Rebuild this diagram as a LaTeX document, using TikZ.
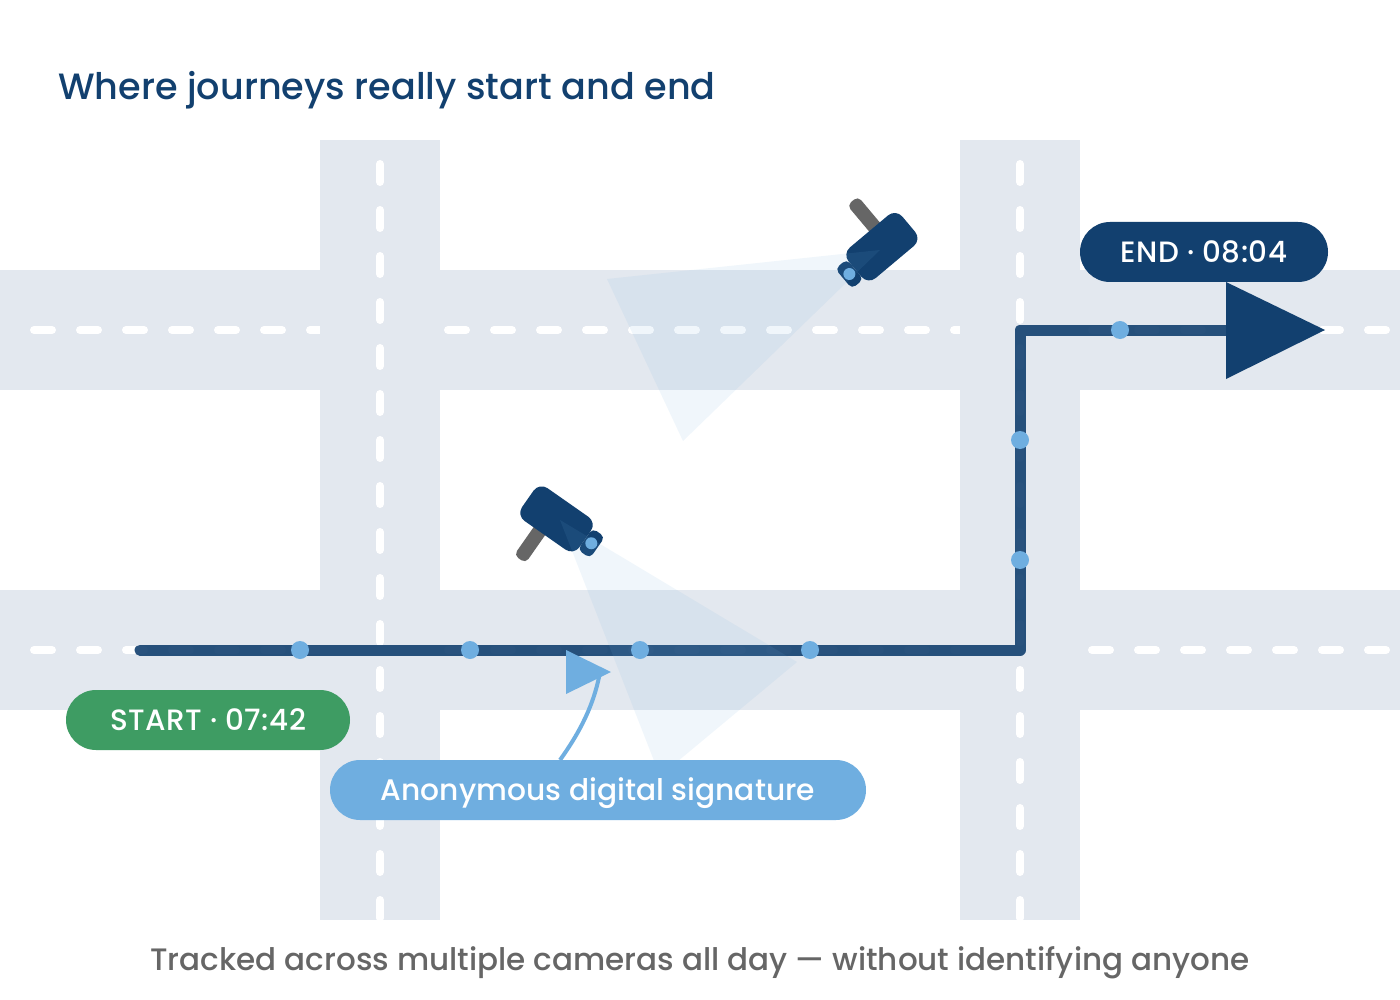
\documentclass[tikz,border=0pt]{standalone}
\usepackage{fontspec}
\setmainfont{Poppins}
\newfontfamily\midfont{Poppins Medium}
\newfontfamily\tagfont[LetterSpace=1.7]{Poppins Medium}
\definecolor{navy}{HTML}{12406F}
\definecolor{sky}{HTML}{6FAEE0}
\definecolor{roadgrey}{HTML}{E3E8EF}
\definecolor{leaf}{HTML}{3E9C63}
\definecolor{mount}{HTML}{666666}
\tikzset{
  road/.style={fill=roadgrey,draw=none},
  lanemark/.style={draw=white,line width=8pt,line cap=round,dash pattern=on 18pt off 28pt},
  route/.style={draw=navy,draw opacity=.9,line width=11pt,line cap=round,line join=round},
  waypoint/.style={circle,fill=sky,inner sep=0pt,minimum size=18pt},
  cone/.style={fill=sky,fill opacity=.1,draw=none},
  pill/.style={rounded corners=30pt,minimum height=60pt,inner sep=0pt,text=white,text height=21pt,text depth=0pt},
  housing/.style={fill=navy,draw=none,rounded corners=10pt},
  lenscap/.style={fill=navy,draw=none,rounded corners=5pt},
  bracket/.style={fill=mount,draw=none,rounded corners=5pt},
  lensdot/.style={circle,fill=sky,inner sep=0pt,minimum size=12pt},
}
\begin{document}
\begin{tikzpicture}[x=1pt,y=-1pt]
\useasboundingbox (0,0) rectangle (1400,1000);
\fill[white] (0,0) rectangle (1400,1000);

% street grid
\fill[road] (0,270) rectangle (1400,390);
\fill[road] (0,590) rectangle (1400,710);
\draw[lanemark] (34,330) -- (1400,330);
\draw[lanemark] (34,650) -- (1400,650);
\fill[road] (320,140) rectangle (440,920);
\fill[road] (960,140) rectangle (1080,920);
\begin{scope}
  \clip (0,140) rectangle (1400,920);
  \draw[lanemark] (380,164) -- (380,930);
  \draw[lanemark] (1020,164) -- (1020,930);
\end{scope}

% journey path with its waypoints
\coordinate (pathstart) at (140,650);
\coordinate (corner1) at (1020,650);
\coordinate (corner2) at (1020,330);
\coordinate (pathend) at (1240,330);
\draw[route] (pathstart) -- (corner1) -- (corner2) -- (pathend);
\node[waypoint] (w1) at (300,650) {};
\node[waypoint] (w2) at (470,650) {};
\node[waypoint] (w3) at (640,650) {};
\node[waypoint] (w4) at (810,650) {};
\node[waypoint] (w5) at (1020,560) {};
\node[waypoint] (w6) at (1020,440) {};
\node[waypoint] (w7) at (1120,330) {};
\fill[navy] (1226,282) -- (1325,330) -- (1226,379) -- cycle;

% upper camera, lens towards the lower left
\begin{scope}[shift={(881.9,246.7)},rotate=40]
  \fill[bracket] (0,-54) rectangle (14,-15);
  \fill[lenscap] (-50,-13) rectangle (-35,13);
  \fill[housing] (-35,-20) rectangle (35,20);
  \node[lensdot] (lens1) at (-42.5,0) {};
\end{scope}

% lower camera, lens towards the lower right
\begin{scope}[shift={(556.5,518.9)},rotate=-35]
  \fill[bracket] (-14,15) rectangle (0,54);
  \fill[lenscap] (35,-13) rectangle (50,13);
  \fill[housing] (-35,-20) rectangle (35,20);
  \node[lensdot] (lens2) at (42.5,0) {};
\end{scope}

% fields of view
\fill[cone] (880,250) -- (607,279) -- (683,441) -- cycle;
\fill[cone] (560,520) -- (797,662) -- (660,776) -- cycle;

% signature callout
\coordinate (tipstem) at (600,672);
\coordinate (tail) at (560,760);
\draw[sky,line width=4pt] (tail) .. controls (580,732) and (594,705) .. (tipstem);
\fill[sky] (566,650) -- (611,672) -- (566,694) -- cycle;

% labels
\node[pill,fill=navy,minimum width=248pt,font=\tagfont\fontsize{29.4}{34}\selectfont] (endlabel) at (1204,252) {END · 08:04};
\node[pill,fill=leaf,minimum width=284pt,font=\tagfont\fontsize{29.4}{34}\selectfont] (startlabel) at (208,720) {START · 07:42};
\node[pill,fill=sky,minimum width=536pt,font=\midfont\fontsize{29.7}{34}\selectfont] (siglabel) at (598,790) {Anonymous digital signature};

\node[anchor=base west,inner sep=0pt,text=navy,font=\midfont\fontsize{36.6}{40}\selectfont] (title) at (58,100) {Where journeys really start and end};
\node[anchor=base,inner sep=0pt,text=mount,font=\midfont\fontsize{31}{36}\selectfont] (caption) at (700,970) {Tracked across multiple cameras all day — without identifying anyone};
\end{tikzpicture}
\end{document}
